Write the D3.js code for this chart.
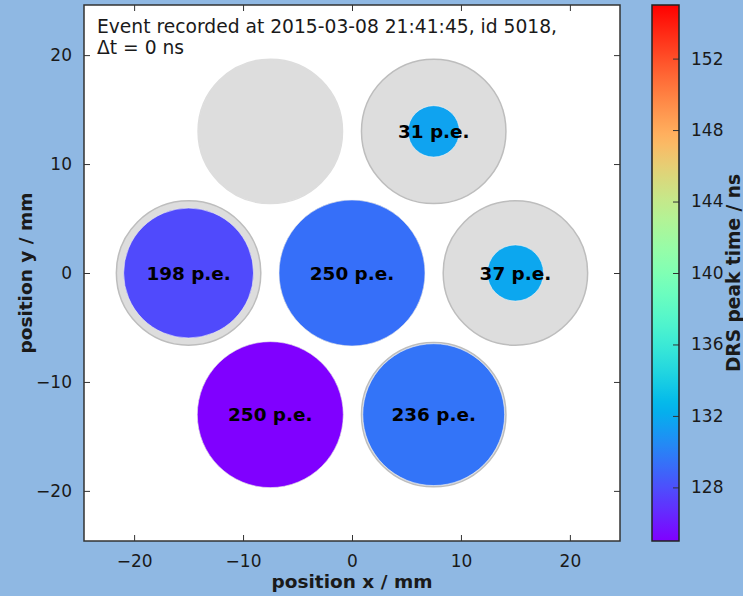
<!DOCTYPE html>
<html>
<head>
<meta charset="utf-8">
<script src="https://cdn.jsdelivr.net/npm/d3@7"></script>
<style>
  html, body { margin: 0; padding: 0; background: #8fb8e3; }
  svg { display: block; }
  text { font-family: "DejaVu Sans", sans-serif; fill: #1a1a1a; }
</style>
</head>
<body>
<svg id="chart" width="743" height="596"></svg>
<script>
// Camera pixel geometry (mm) and per-pixel measurements
const pixelX = [-7.5, 7.5, -15, 0, 15, -7.5, 7.5];
const pixelY = [13, 13, 0, 0, 0, -13, -13];
const photoElectrons = [null, 31, 198, 250, 37, 250, 236];   // null = no signal
const peakTimes = [null, 131.6, 127.8, 129.3, 131.8, 125.0, 129.5]; // ns

const axisTicks = [-20, -10, 0, 10, 20];
const colorTicks = [128, 132, 136, 140, 144, 148, 152];
const timeRange = [125, 155];
const titleLines = ["Event recorded at 2015-03-08 21:41:45, id 5018,", "\u0394t = 0 ns"];

const plot = { left: 84, top: 5, right: 620, bottom: 541 };
const bar = { left: 652, right: 679 };
const svg = d3.select("#chart");

const x = d3.scaleLinear().domain([-24.6, 24.6]).range([plot.left, plot.right]);
const y = d3.scaleLinear().domain([-24.6, 24.6]).range([plot.bottom, plot.top]);
const pxPerMm = x(1) - x(0);

// matplotlib-style "rainbow" colormap
function rainbow(t) {
  t = Math.max(0, Math.min(1, t));
  const r = Math.abs(2 * t - 0.5), g = Math.sin(Math.PI * t), b = Math.cos(Math.PI * t / 2);
  return d3.rgb(Math.min(1, r) * 255, g * 255, b * 255).formatHex();
}
const color = d3.scaleSequential(rainbow).domain(timeRange);

// plot area
svg.append("rect").attr("x", plot.left).attr("y", plot.top)
  .attr("width", plot.right - plot.left).attr("height", plot.bottom - plot.top)
  .attr("fill", "#ffffff");

const outerR = 6.63, innerMaxR = 6.7, maxPe = 250;
const pix = pixelX.map((px, i) => ({ x: px, y: pixelY[i], pe: photoElectrons[i], t: peakTimes[i] }));

// pixel housings
svg.append("g").selectAll("circle").data(pix).join("circle")
  .attr("cx", d => x(d.x)).attr("cy", d => y(d.y))
  .attr("r", outerR * pxPerMm)
  .attr("fill", "#dddddd")
  .attr("stroke", d => d.pe == null ? "#dddddd" : "#bdbdbd")
  .attr("stroke-width", 1.5);

// signal discs: area proportional to photo-electrons
const lit = pix.filter(d => d.pe != null);
svg.append("g").selectAll("circle").data(lit).join("circle")
  .attr("cx", d => x(d.x)).attr("cy", d => y(d.y))
  .attr("r", d => innerMaxR * Math.sqrt(Math.min(d.pe, maxPe) / maxPe) * pxPerMm)
  .attr("fill", d => color(d.t))
  .attr("stroke", "#f4f4f4").attr("stroke-width", 0.6);

svg.append("g").selectAll("text").data(lit).join("text")
  .attr("x", d => x(d.x)).attr("y", d => y(d.y))
  .attr("text-anchor", "middle").attr("dy", "0.36em")
  .style("font-size", "18.4px").style("font-weight", "bold").style("fill", "#000")
  .text(d => `${d.pe} p.e.`);

// title
const title = svg.append("text").attr("x", 97).attr("y", 33).style("font-size", "18.7px");
titleLines.forEach((s, i) => title.append("tspan").attr("x", 97).attr("y", 33 + i * 20.5).text(s));

// axes with inward ticks on all sides
function styleAxis(g) {
  g.select(".domain").remove();
  g.selectAll("line").attr("stroke", "#333").attr("stroke-width", 1);
  g.selectAll("text").style("font-size", "17px").style("font-family", "DejaVu Sans").attr("fill", "#1a1a1a");
}
const minus = d => d < 0 ? "\u2212" + Math.abs(d) : d;
svg.append("g").attr("transform", `translate(0,${plot.bottom})`)
  .call(d3.axisBottom(x).tickValues(axisTicks).tickSizeInner(-6).tickSizeOuter(0).tickPadding(14).tickFormat(minus))
  .call(styleAxis);
svg.append("g").attr("transform", `translate(0,${plot.top})`)
  .call(d3.axisTop(x).tickValues(axisTicks).tickSizeInner(-6).tickSizeOuter(0).tickFormat(""))
  .call(styleAxis);
svg.append("g").attr("transform", `translate(${plot.left},0)`)
  .call(d3.axisLeft(y).tickValues(axisTicks).tickSizeInner(-6).tickSizeOuter(0).tickPadding(12).tickFormat(minus))
  .call(styleAxis);
svg.append("g").attr("transform", `translate(${plot.right},0)`)
  .call(d3.axisRight(y).tickValues(axisTicks).tickSizeInner(-6).tickSizeOuter(0).tickFormat(""))
  .call(styleAxis);

svg.append("rect").attr("x", plot.left).attr("y", plot.top)
  .attr("width", plot.right - plot.left).attr("height", plot.bottom - plot.top)
  .attr("fill", "none").attr("stroke", "#333").attr("stroke-width", 1.5);

// axis labels
svg.append("text").attr("x", (plot.left + plot.right) / 2).attr("y", 588)
  .attr("text-anchor", "middle").style("font-size", "18.5px").style("font-weight", "bold")
  .text("position x / mm");
svg.append("text").attr("transform", `translate(32,${(plot.top + plot.bottom) / 2}) rotate(-90)`)
  .attr("text-anchor", "middle").style("font-size", "18.5px").style("font-weight", "bold")
  .text("position y / mm");

// colour bar
const cy = d3.scaleLinear().domain(timeRange).range([plot.bottom, plot.top]);
const defs = svg.append("defs");
const grad = defs.append("linearGradient").attr("id", "cbar")
  .attr("x1", 0).attr("y1", 1).attr("x2", 0).attr("y2", 0);
d3.range(0, 1.0001, 0.02).forEach(s => grad.append("stop").attr("offset", s).attr("stop-color", rainbow(s)));
svg.append("rect").attr("x", bar.left).attr("y", plot.top)
  .attr("width", bar.right - bar.left).attr("height", plot.bottom - plot.top)
  .attr("fill", "url(#cbar)");
svg.append("g").attr("transform", `translate(${bar.right},0)`)
  .call(d3.axisRight(cy).tickValues(colorTicks).tickSizeInner(-6).tickSizeOuter(0).tickPadding(12))
  .call(styleAxis);
svg.append("rect").attr("x", bar.left).attr("y", plot.top)
  .attr("width", bar.right - bar.left).attr("height", plot.bottom - plot.top)
  .attr("fill", "none").attr("stroke", "#222").attr("stroke-width", 1.5);
svg.append("text").attr("transform", `translate(740,${(plot.top + plot.bottom) / 2}) rotate(-90)`)
  .attr("text-anchor", "middle").style("font-size", "18.6px").style("font-weight", "bold")
  .text("DRS peak time / ns");
</script>
</body>
</html>
